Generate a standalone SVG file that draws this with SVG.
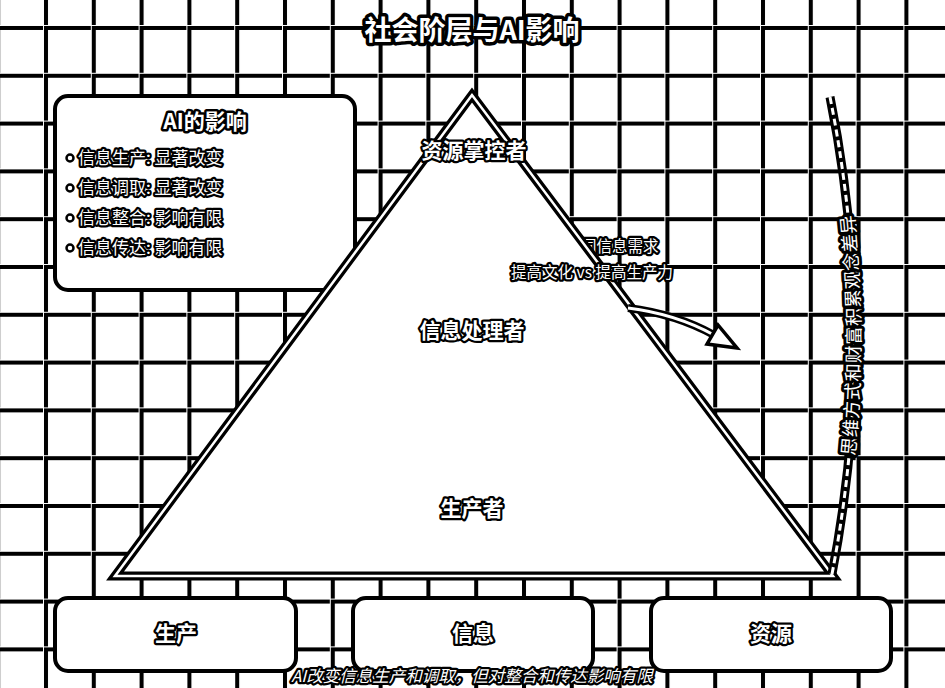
<svg xmlns="http://www.w3.org/2000/svg" width="945" height="688" viewBox="0 0 945 688">
<style>
text{font-family:"Noto Sans CJK SC","Noto Sans",sans-serif;fill:#fff;stroke:#000;paint-order:stroke;stroke-linejoin:round}
.t{font-size:27px;font-weight:bold;stroke-width:7}
.h{font-size:21px;font-weight:bold;stroke-width:5}
.b{font-size:17px;stroke-width:4.5}
.l{font-size:21px;font-weight:bold;stroke-width:4.5}
.s{font-size:15.5px;stroke-width:4.5}
.v{font-size:18.5px;stroke-width:6}
.cap{font-size:16.5px;font-style:italic;stroke-width:4.5}
.box{fill:#fff;stroke:#000;stroke-width:4}
.dot{fill:#fff;stroke:#000;stroke-width:2.5}
</style>
<defs>
<pattern id="grid" x="43" y="25" width="47.8" height="47.8" patternUnits="userSpaceOnUse">
<path d="M0 0H47.8M0 0V47.8" fill="none" stroke="#000" stroke-width="10"/>
<path d="M0 0H47.8M0 0V47.8" fill="none" stroke="#fff" stroke-width="2"/>
</pattern>
</defs>
<rect width="945" height="688" fill="#fff"/>
<rect width="945" height="688" fill="url(#grid)"/>
<text class="t" x="472" y="40" text-anchor="middle">社会阶层与AI影响</text>
<g id="ai-box">
<rect class="box" x="55" y="96" width="300" height="194" rx="13"/>
<text class="h" x="205" y="129" text-anchor="middle">AI的影响</text>
<circle class="dot" cx="70" cy="158" r="3.5"/>
<text class="b" x="78" y="164">信息生产: 显著改变</text>
<circle class="dot" cx="70" cy="188" r="3.5"/>
<text class="b" x="78" y="194">信息调取: 显著改变</text>
<circle class="dot" cx="70" cy="218" r="3.5"/>
<text class="b" x="78" y="224">信息整合: 影响有限</text>
<circle class="dot" cx="70" cy="248" r="3.5"/>
<text class="b" x="78" y="254">信息传达: 影响有限</text>
</g>
<text class="s" x="612" y="252" text-anchor="middle">不同信息需求</text>
<g id="pyramid">
<polygon points="472,95 115,576 833,576" fill="#fff" stroke="#000" stroke-width="9" stroke-linejoin="miter"/>
<polygon points="472,95 115,576 833,576" fill="none" stroke="#fff" stroke-width="2.5" stroke-linejoin="miter"/>
<text class="l" x="474" y="158" text-anchor="middle">资源掌控者</text>
<text class="l" x="472" y="338" text-anchor="middle">信息处理者</text>
<text class="l" x="472" y="516" text-anchor="middle">生产者</text>
</g>
<g id="connectors">
<path d="M628 308 Q676 314 714 335" fill="none" stroke="#000" stroke-width="8"/>
<path d="M628 308 Q676 314 714 335" fill="none" stroke="#fff" stroke-width="3"/>
<polygon points="737,348 707,344 718,325" fill="#fff" stroke="#000" stroke-width="3.5" stroke-linejoin="miter"/>
<path id="curve" d="M832 574 Q878 336 830 97" fill="none" stroke="#000" stroke-width="9"/>
<path d="M832 574 Q878 336 830 97" fill="none" stroke="#fff" stroke-width="3" stroke-dasharray="7 4"/>
<text class="v"><textPath href="#curve" startOffset="50%" text-anchor="middle"><tspan dy="6">思维方式和财富积累观念差异</tspan></textPath></text>
</g>
<text class="s" x="592" y="278" text-anchor="middle">提高文化 vs 提高生产力</text>
<g id="box-production">
<rect class="box" x="55" y="598" width="241" height="73" rx="13"/>
<text class="l" x="176" y="641" text-anchor="middle">生产</text>
</g>
<g id="box-info">
<rect class="box" x="353" y="598" width="240" height="73" rx="13"/>
<text class="l" x="473" y="641" text-anchor="middle">信息</text>
</g>
<g id="box-resource">
<rect class="box" x="651" y="598" width="240" height="73" rx="13"/>
<text class="l" x="771" y="641" text-anchor="middle">资源</text>
</g>
<text class="cap" x="472" y="682" text-anchor="middle">AI改变信息生产和调取，但对整合和传达影响有限</text>
</svg>
